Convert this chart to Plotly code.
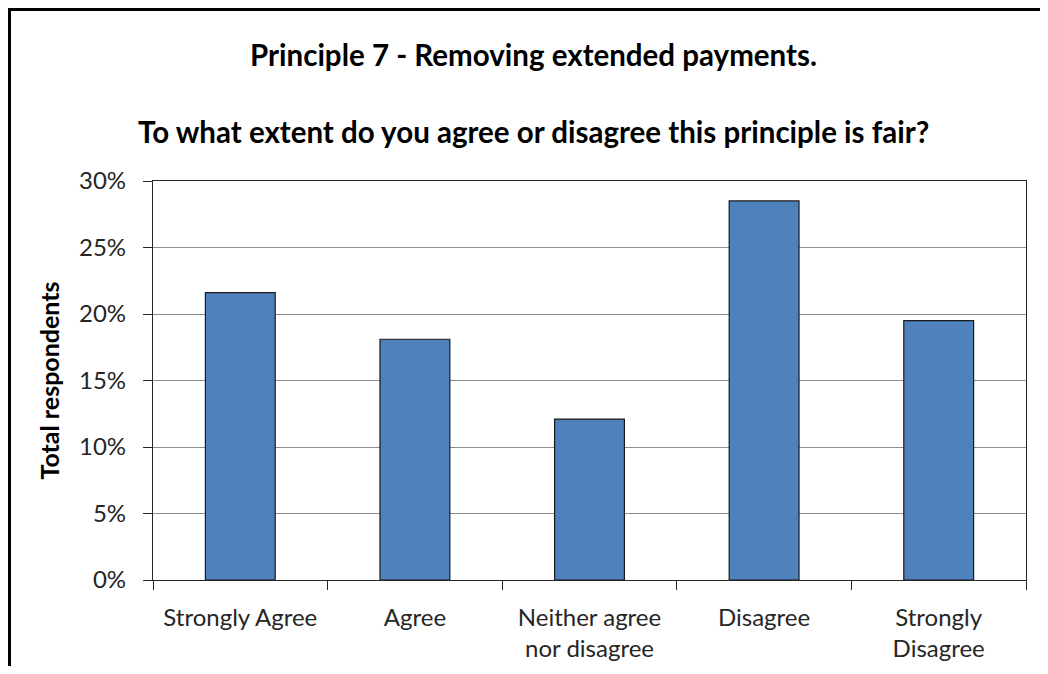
"""Bar chart: Principle 7 - removing extended payments, survey responses."""

import plotly.graph_objects as go

categories = [
    "Strongly Agree",
    "Agree",
    "Neither agree<br>nor disagree",
    "Disagree",
    "Strongly<br>Disagree",
]
shares = [0.216, 0.181, 0.121, 0.285, 0.195]
y_ticks = [0, 0.05, 0.10, 0.15, 0.20, 0.25, 0.30]

FONT = "Lato"
BAR_BLUE = "#4f81bd"
AXIS_GREY = "#262626"

# the page body has an 8px margin, so the figure is sized to fit inside it
W, H = 1032, 658
L, R, T, B = 145, 14, 173, 86
PLOT_W = W - L - R
PLOT_H = H - T - B

fig = go.Figure(
    go.Bar(
        x=categories,
        y=shares,
        width=0.4,
        marker=dict(color=BAR_BLUE, line=dict(color="#1a1a1a", width=1.2)),
        hoverinfo="x+y",
    )
)

fig.update_layout(
    width=W,
    height=H,
    margin=dict(l=L, r=R, t=T, b=B),
    paper_bgcolor="white",
    plot_bgcolor="white",
    showlegend=False,
    font=dict(family=FONT, size=24, color=AXIS_GREY),
    annotations=[
        dict(
            text="<b>Principle 7 - Removing extended payments.</b>",
            xref="paper", yref="paper", x=0.436, y=1.316,
            xanchor="center", yanchor="middle", showarrow=False,
            font=dict(family=FONT, size=29.5, color="black"),
        ),
        dict(
            text="<b>To what extent do you agree or disagree this principle is fair?</b>",
            xref="paper", yref="paper", x=0.436, y=1.123,
            xanchor="center", yanchor="middle", showarrow=False,
            font=dict(family=FONT, size=29.5, color="black"),
        ),
    ],
    shapes=[
        # outer chart frame, running off the right and bottom edges
        dict(
            type="rect", xref="paper", yref="paper",
            x0=(1.5 - L) / PLOT_W, x1=1.2,
            y0=-0.5, y1=(H - B - 1.5) / PLOT_H,
            line=dict(color="black", width=3), fillcolor="rgba(0,0,0,0)",
            layer="below",
        )
    ],
)

fig.update_xaxes(
    automargin=False,
    showline=True,
    linecolor=AXIS_GREY,
    linewidth=1.2,
    mirror=True,
    ticks="outside",
    tickson="boundaries",
    ticklen=9,
    tickcolor=AXIS_GREY,
    showgrid=False,
    ticklabelstandoff=16,
    tickfont=dict(family=FONT, size=24, color=AXIS_GREY),
)

fig.update_yaxes(
    automargin=False,
    range=[0, 0.30],
    tickvals=y_ticks,
    tickformat=".0%",
    showline=True,
    linecolor=AXIS_GREY,
    linewidth=1.2,
    mirror=True,
    ticks="outside",
    ticklen=9,
    tickcolor=AXIS_GREY,
    showgrid=True,
    gridcolor="#8c8c8c",
    gridwidth=1,
    zeroline=False,
    ticklabelstandoff=12,
    tickfont=dict(family=FONT, size=24, color=AXIS_GREY),
    title=dict(
        text="<b>Total respondents</b>",
        font=dict(family=FONT, size=25, color="black"),
        standoff=12,
    ),
)

fig.write_html("out.html")
